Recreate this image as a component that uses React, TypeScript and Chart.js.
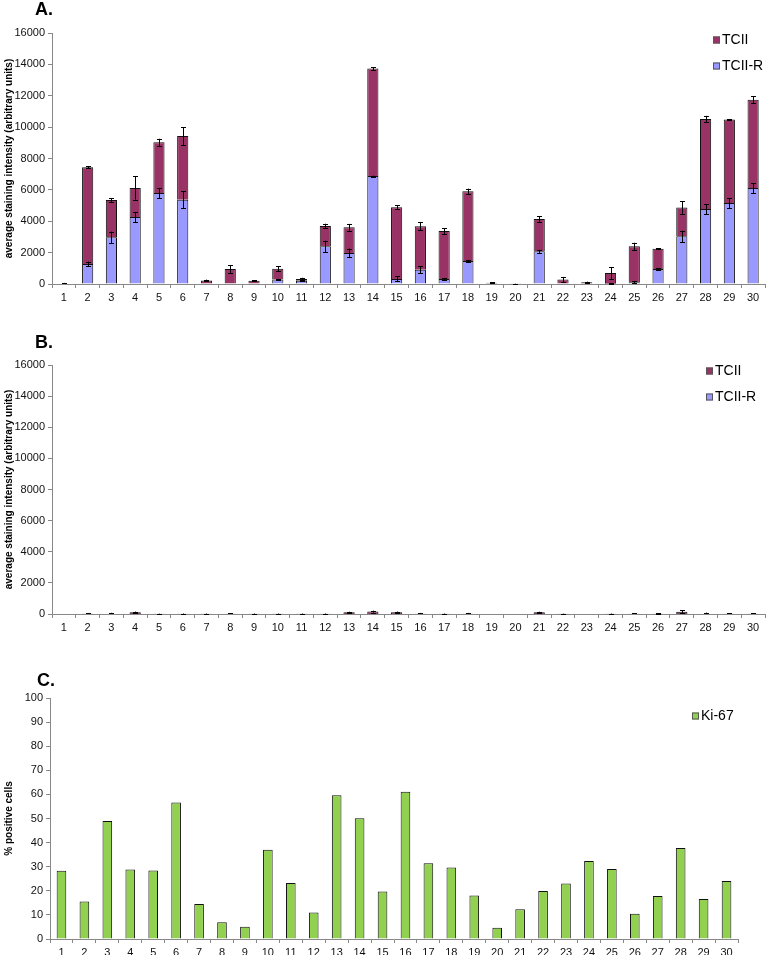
import React, { useEffect, useRef } from "react";
import { Chart, registerables } from "chart.js";

Chart.register(...registerables);

const FONT = "'Liberation Sans', Arial, sans-serif";

// ---------- data ----------
const categories = [
  "1", "2", "3", "4", "5", "6", "7", "8", "9", "10",
  "11", "12", "13", "14", "15", "16", "17", "18", "19", "20",
  "21", "22", "23", "24", "25", "26", "27", "28", "29", "30",
];

const seriesNames = ["TCII", "TCII-R"];
const ki67Name = "Ki-67";

// Panel A (stacked: TCII-R bottom, TCII on top)
const tcIIR_A = [0, 1280, 2980, 4270, 5800, 5370, 0, 0, 0, 280, 200, 2400, 1980, 6880, 320, 910, 320, 1470, 0, 0, 2080, 0, 0, 20, 110, 960, 3040, 4780, 5160, 6120];
const tcII_A = [30, 6160, 2380, 1850, 3230, 4060, 230, 960, 210, 700, 120, 1300, 1640, 6850, 4570, 2770, 3060, 4440, 80, 10, 2060, 280, 110, 680, 2290, 1290, 1830, 5740, 5320, 5630];
const tcIIR_A_err = [0, 150, 360, 320, 320, 530, 0, 0, 0, 40, 40, 360, 280, 30, 160, 210, 50, 50, 0, 0, 100, 0, 0, 20, 50, 60, 360, 320, 320, 320];
const tcII_A_err = [40, 60, 120, 740, 230, 570, 50, 250, 40, 160, 80, 140, 210, 85, 130, 250, 190, 170, 40, 10, 170, 170, 40, 370, 230, 30, 400, 200, 40, 210];

// Panel B
const tcIIR_B = [0, 0, 0, 5, 0, 0, 0, 0, 0, 0, 0, 0, 5, 5, 5, 0, 0, 0, 0, 0, 5, 0, 0, 0, 0, 0, 5, 0, 0, 0];
const tcII_B = [0, 20, 30, 110, 10, 15, 15, 20, 15, 15, 15, 15, 110, 150, 100, 20, 15, 20, 0, 0, 110, 10, 0, 15, 15, 20, 140, 30, 20, 20];
const tcII_B_err = [0, 30, 50, 40, 10, 15, 15, 40, 15, 15, 15, 15, 30, 60, 50, 50, 15, 50, 0, 0, 30, 10, 0, 15, 20, 15, 80, 60, 30, 30];

// Panel C
const ki67 = [28.3, 15.6, 49.0, 28.8, 28.4, 56.6, 14.5, 7.0, 5.1, 37.0, 23.2, 11.0, 59.6, 50.1, 19.7, 61.1, 31.4, 29.7, 18.1, 4.7, 12.3, 19.9, 23.0, 32.4, 29.0, 10.5, 17.8, 37.8, 16.6, 24.1];

const stainingTicks = [0, 2000, 4000, 6000, 8000, 10000, 12000, 14000, 16000];
const percentTicks = [0, 10, 20, 30, 40, 50, 60, 70, 80, 90, 100];

const stainingTitle = "average staining intensity (arbitrary units)";
const percentTitle = "% positive cells";

const COLOR_TCII = "#993366";
const COLOR_TCIIR = "#9999FF";
const COLOR_KI = "#92D050";

// ---------- plugins ----------
const errorBarPlugin = {
  id: "errorBars",
  afterDatasetsDraw(chart: any) {
    const ctx = chart.ctx;
    const yScale = chart.scales.y;
    ctx.save();
    ctx.strokeStyle = "#000";
    ctx.lineWidth = 1;
    chart.data.datasets.forEach((ds: any, i: number) => {
      const errs = ds.errors;
      if (!errs) return;
      const meta = chart.getDatasetMeta(i);
      if (!meta.visible) return;
      meta.data.forEach((bar: any, j: number) => {
        const e = errs[j];
        if (!e) return;
        const px = Math.abs(yScale.getPixelForValue(0) - yScale.getPixelForValue(e));
        const x = Math.round(bar.x) + 0.5;
        const y = bar.y;
        const top = Math.min(y - px, yScale.bottom);
        const bot = Math.min(y + px, yScale.bottom);
        ctx.beginPath();
        ctx.moveTo(x, top);
        ctx.lineTo(x, bot);
        ctx.moveTo(x - 2.5, Math.round(top) + 0.5);
        ctx.lineTo(x + 2.5, Math.round(top) + 0.5);
        if (y + px <= yScale.bottom) {
          ctx.moveTo(x - 2.5, Math.round(bot) + 0.5);
          ctx.lineTo(x + 2.5, Math.round(bot) + 0.5);
        }
        ctx.stroke();
      });
    });
    ctx.restore();
  },
};

const boxLegendPlugin = {
  id: "boxLegend",
  afterDraw(chart: any, _args: any, opts: any) {
    if (!opts || !opts.items) return;
    const ctx = chart.ctx;
    ctx.save();
    opts.items.forEach((it: any) => {
      const ds = chart.data.datasets[it.datasetIndex];
      ctx.fillStyle = ds.backgroundColor;
      ctx.fillRect(it.x, it.y - 3.5, 7, 7);
      ctx.strokeStyle = "#555";
      ctx.lineWidth = 1;
      ctx.strokeRect(it.x + 0.5, it.y - 3.5 + 0.5, 6, 6);
      ctx.fillStyle = "#000";
      ctx.font = `14px ${FONT}`;
      ctx.textBaseline = "middle";
      ctx.textAlign = "left";
      ctx.fillText(ds.label, it.x + 9, it.y + 0.5);
    });
    ctx.restore();
  },
};

// ---------- helpers ----------
function makeOptions(opts: {
  ticks: number[];
  max: number;
  title: string;
  yWidth: number;
  xHeight: number;
  padTop: number;
  padRight: number;
  legendItems: any[];
}) {
  return {
    responsive: false,
    animation: false as const,
    layout: { padding: { top: opts.padTop, right: opts.padRight, left: 0, bottom: 0 } },
    plugins: {
      legend: { display: false },
      tooltip: { enabled: false },
      title: { display: false },
      boxLegend: { items: opts.legendItems },
    },
    scales: {
      x: {
        stacked: true,
        offset: true,
        grid: {
          display: true,
          drawOnChartArea: false,
          drawTicks: true,
          tickLength: 4,
          offset: true,
          color: "#888",
        },
        border: { display: true, color: "#888", width: 1 },
        ticks: {
          color: "#111",
          font: { family: FONT, size: 11 },
          padding: 3,
          maxRotation: 0,
          autoSkip: false,
        },
        afterFit: (scale: any) => {
          scale.height = opts.xHeight;
        },
      },
      y: {
        stacked: true,
        min: 0,
        max: opts.max,
        grid: {
          display: true,
          drawOnChartArea: false,
          drawTicks: true,
          tickLength: 4,
          color: "#888",
        },
        border: { display: true, color: "#888", width: 1 },
        ticks: {
          color: "#111",
          font: { family: FONT, size: 11 },
          padding: 3,
          callback: (v: any) => String(v),
        },
        afterBuildTicks: (scale: any) => {
          scale.ticks = opts.ticks.map((v) => ({ value: v }));
        },
        title: {
          display: true,
          text: opts.title,
          color: "#000",
          font: { family: FONT, size: 10, weight: "bold" as const },
          padding: { top: 3, bottom: 3 },
        },
        afterFit: (scale: any) => {
          scale.width = opts.yWidth;
        },
      },
    },
  };
}

function ChartCanvas({ width, height, config }: { width: number; height: number; config: () => any }) {
  const ref = useRef<HTMLCanvasElement | null>(null);
  useEffect(() => {
    if (!ref.current) return;
    const chart = new Chart(ref.current, config());
    return () => chart.destroy();
  }, []);
  return <canvas ref={ref} width={width} height={height} style={{ display: "block", width, height }} />;
}

function stackedConfig(blue: number[], maroon: number[], blueErr: number[] | null, maroonErr: number[], padTop: number) {
  return () => ({
    type: "bar",
    data: {
      labels: categories,
      datasets: [
        {
          label: seriesNames[1],
          data: blue,
          backgroundColor: COLOR_TCIIR,
          borderColor: "#111",
          borderWidth: 1,
          categoryPercentage: 1,
          barPercentage: 0.47,
          errors: blueErr,
        },
        {
          label: seriesNames[0],
          data: maroon,
          backgroundColor: COLOR_TCII,
          borderColor: "#111",
          borderWidth: 1,
          categoryPercentage: 1,
          barPercentage: 0.47,
          errors: maroonErr,
        },
      ],
    },
    options: makeOptions({
      ticks: stainingTicks,
      max: 16000,
      title: stainingTitle,
      yWidth: 52,
      xHeight: 21,
      padTop,
      padRight: 2,
      legendItems: [
        { datasetIndex: 1, x: 713, y: 40 },
        { datasetIndex: 0, x: 713, y: 66 },
      ],
    }),
    plugins: [errorBarPlugin, boxLegendPlugin],
  });
}

function stackedConfigB() {
  const cfg = stackedConfig(tcIIR_B, tcII_B, null, tcII_B_err, 35)();
  cfg.options.plugins.boxLegend.items = [
    { datasetIndex: 1, x: 706, y: 41 },
    { datasetIndex: 0, x: 706, y: 67 },
  ];
  return cfg;
}

function kiConfig() {
  return {
    type: "bar",
    data: {
      labels: categories,
      datasets: [
        {
          label: ki67Name,
          data: ki67,
          backgroundColor: COLOR_KI,
          borderColor: "#111",
          borderWidth: 1,
          categoryPercentage: 1,
          barPercentage: 0.42,
        },
      ],
    },
    options: makeOptions({
      ticks: percentTicks,
      max: 100,
      title: percentTitle,
      yWidth: 50,
      xHeight: 16,
      padTop: 38,
      padRight: 29,
      legendItems: [{ datasetIndex: 0, x: 692, y: 56 }],
    }),
    plugins: [errorBarPlugin, boxLegendPlugin],
  };
}

const letterStyle: React.CSSProperties = {
  position: "absolute",
  fontFamily: FONT,
  fontWeight: "bold",
  fontSize: 18,
  lineHeight: "18px",
  color: "#000",
  margin: 0,
};

export default function App() {
  return (
    <div
      style={{
        position: "absolute",
        left: 0,
        top: 0,
        width: 767,
        height: 955,
        overflow: "hidden",
        background: "#fff",
      }}
    >
      <div style={{ position: "absolute", left: 0, top: 0 }}>
        <ChartCanvas width={767} height={305} config={stackedConfig(tcIIR_A, tcII_A, tcIIR_A_err, tcII_A_err, 33)} />
      </div>
      <div style={{ position: "absolute", left: 0, top: 330 }}>
        <ChartCanvas width={767} height={305} config={stackedConfigB} />
      </div>
      <div style={{ position: "absolute", left: 0, top: 660 }}>
        <ChartCanvas width={767} height={295} config={kiConfig} />
      </div>
      <div style={{ ...letterStyle, left: 35, top: 0 }}>A.</div>
      <div style={{ ...letterStyle, left: 35, top: 333 }}>B.</div>
      <div style={{ ...letterStyle, left: 37, top: 671 }}>C.</div>
    </div>
  );
}
